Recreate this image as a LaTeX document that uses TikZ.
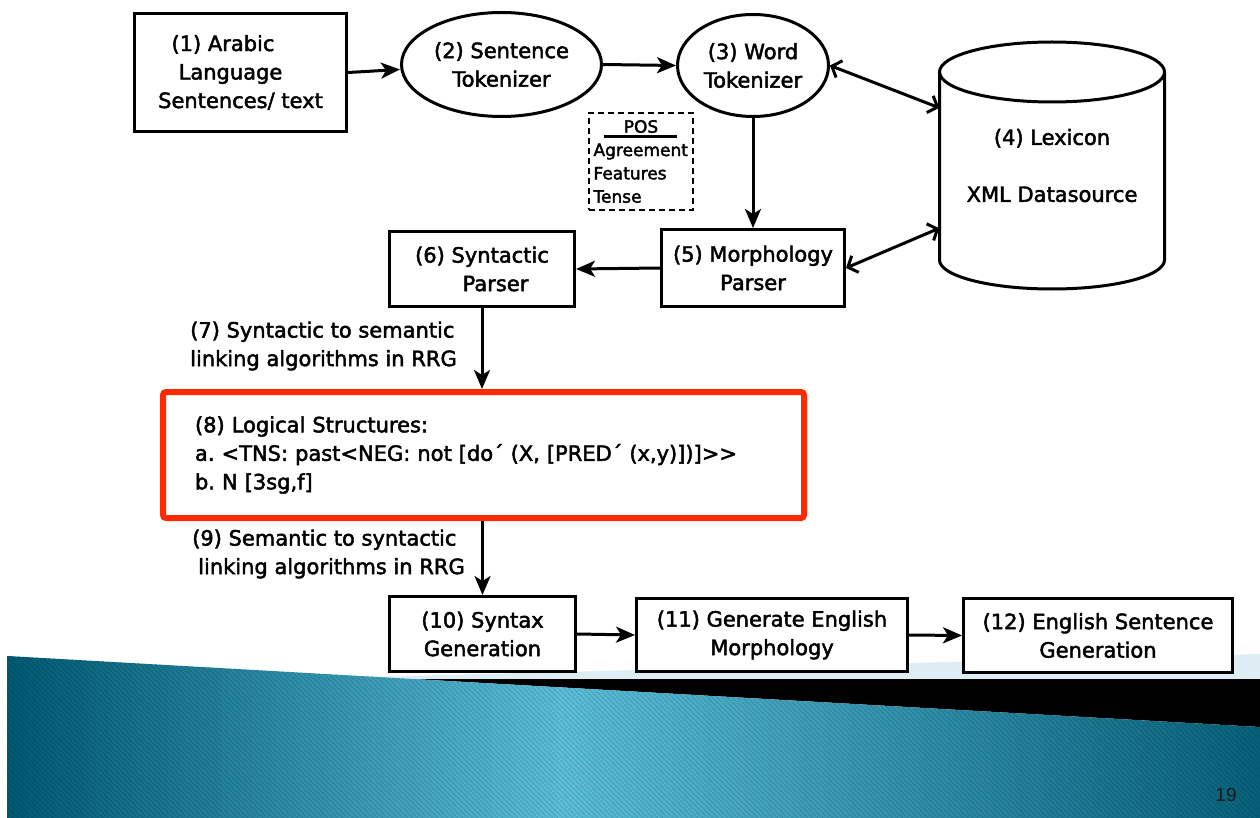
\documentclass[tikz,border=0pt]{standalone}
\usepackage{fontspec}
\setmainfont{DejaVu Sans}
\newfontfamily\heavysans{DejaVu Sans}[FakeBold=2.2]
\newfontfamily\numfont{Liberation Sans}
\usetikzlibrary{arrows.meta,shapes.geometric,calc}
\definecolor{tealdark}{RGB}{0,88,114}
\definecolor{teallight}{RGB}{90,190,216}
\definecolor{palesky}{RGB}{222,236,243}
\definecolor{alertred}{RGB}{255,42,0}
\newcommand\boxfont{\heavysans\fontsize{21}{28.5}\selectfont}
\newcommand\smallboxfont{\heavysans\fontsize{17}{23.3}\selectfont}
\frenchspacing

\begin{document}
\begin{tikzpicture}[x=1pt,y=-1pt,
  stepbox/.style={draw, line width=3pt, fill=white, rectangle, inner sep=0pt, align=center, font=\boxfont},
  tokenizer/.style={draw, line width=3pt, fill=white, ellipse, inner sep=0pt, align=center, font=\boxfont},
  linklabel/.style={anchor=west, inner sep=0pt, align=left, font=\boxfont},
  flow/.style={line width=3pt, -{Stealth[length=19pt,width=16pt,inset=5pt]}},
  lookup/.style={line width=3pt, {Straight Barb[length=8pt,width=18pt]}-{Straight Barb[length=8pt,width=18pt]}},
]
\useasboundingbox (0,0) rectangle (1260,818);
\fill[white] (0,0) rectangle (1260,818);

% footer band: pale wedge, black wedge, teal gradient with fine diagonal hatching
\fill[palesky] (290,679) -- (1260,654) -- (1260,679) -- cycle;
\fill[black] (413,679) -- (1260,679) -- (1260,727) -- cycle;
\begin{scope}
  \clip (7,656) -- (1260,727) -- (1260,818) -- (7,818) -- cycle;
  \foreach \s in {0,6,...,1260}{
    \pgfmathsetmacro\p{\s<560 ? 100*(1-(560-\s)/560) : 100*(1-(\s-560)/760)}
    \fill[teallight!\p!tealdark] (\s,650) rectangle (\s+6.6,820);
  }
  \foreach \s in {-180,-175,...,1260}
    \draw[black, opacity=0.12, line width=0.8pt] (\s,650) -- (\s+175,825);
\end{scope}

% processing steps
\node[stepbox, minimum width=212pt, minimum height=118pt] (src) at (240.5,72.5)
  {(1) Arabic\kern35pt\\Language\kern20pt\\Sentences/ text};
\node[tokenizer, minimum width=200pt, minimum height=104pt] (sent) at (501.5,64.5)
  {(2) Sentence\\Tokenizer};
\node[tokenizer, minimum width=151pt, minimum height=102pt] (word) at (753,65.5)
  {(3) Word\\Tokenizer};

% lexicon store
\node[font=\boxfont, align=center, minimum width=225pt, minimum height=247pt, inner sep=0pt]
  (lex) at (1052,165.5) {(4) Lexicon\\[28.5pt]XML Datasource};
\draw[line width=3pt] (939.5,72) -- (939.5,260)
  arc[start angle=180, end angle=0, x radius=112.5, y radius=29] -- (1164.5,72);
\draw[line width=3pt] (1052,72) ellipse[x radius=112.5, y radius=30];

% morphological features
\node[draw, dash pattern=on 6pt off 4pt, line width=2.5pt, minimum width=104pt,
  minimum height=97pt, inner sep=0pt, align=left, font=\smallboxfont]
  (feat) at (641,161.5) {\makebox[95pt][c]{POS}\\Agreement\\Features\\Tense};
\draw[line width=2.5pt] ($(feat.north)+(-37,25)$) -- ($(feat.north)+(36,25)$);

\node[stepbox, minimum width=183pt, minimum height=77pt] (morph) at (753,268)
  {(5) Morphology\\Parser};
\node[stepbox, minimum width=185pt, minimum height=75pt] (synp) at (482,269)
  {(6) Syntactic\\\kern27pt Parser};

\node[linklabel] (l7) at (190,346)
  {(7) Syntactic to semantic\\linking algorithms in RRG};

\node[draw=alertred, line width=6pt, rounded corners=3pt, fill=white,
  minimum width=641pt, minimum height=126pt, text width=577pt,
  inner xsep=32pt, inner ysep=0pt, align=left, font=\boxfont] (logic) at (483.5,455)
  {(8) Logical Structures:\\a. <TNS: past<NEG: not [do´ (X, [PRED´ (x,y)])]>\kern0pt>\\b. N [3sg,f]};

\node[linklabel] (l9) at (192,554)
  {(9) Semantic to syntactic\\\kern6pt linking algorithms in RRG};

\node[stepbox, minimum width=186pt, minimum height=75pt] (sgen) at (482.5,634)
  {(10) Syntax\\Generation};
\node[stepbox, minimum width=271pt, minimum height=73pt] (emorph) at (772,635)
  {(11) Generate English\\Morphology};
\node[stepbox, minimum width=269pt, minimum height=74pt] (esent) at (1098,635.5)
  {(12) English Sentence\\Generation};

\node[font=\numfont\fontsize{19}{22}\selectfont, text=black!90] (pg) at (1226,795) {19};

% connectors
\draw[flow] (src.east) -- ($(sent.west)+(0,5)$);
\draw[flow] (sent.east) -- (word.west);
\draw[flow] (word.south) -- (morph.north);
\draw[lookup] (word.east) -- ($(lex.north west)+(0,66)$);
\draw[lookup] (morph.east) -- ($(lex.south west)+(0,-61)$);
\draw[flow] (morph.west) -- (synp.east);
\draw[flow] (synp.south) -- (synp.south |- logic.north);
\draw[flow] (sgen.north |- logic.south) -- (sgen.north);
\draw[flow] (sgen.east) -- (emorph.west);
\draw[flow] (emorph.east) -- (esent.west);
\end{tikzpicture}
\end{document}
